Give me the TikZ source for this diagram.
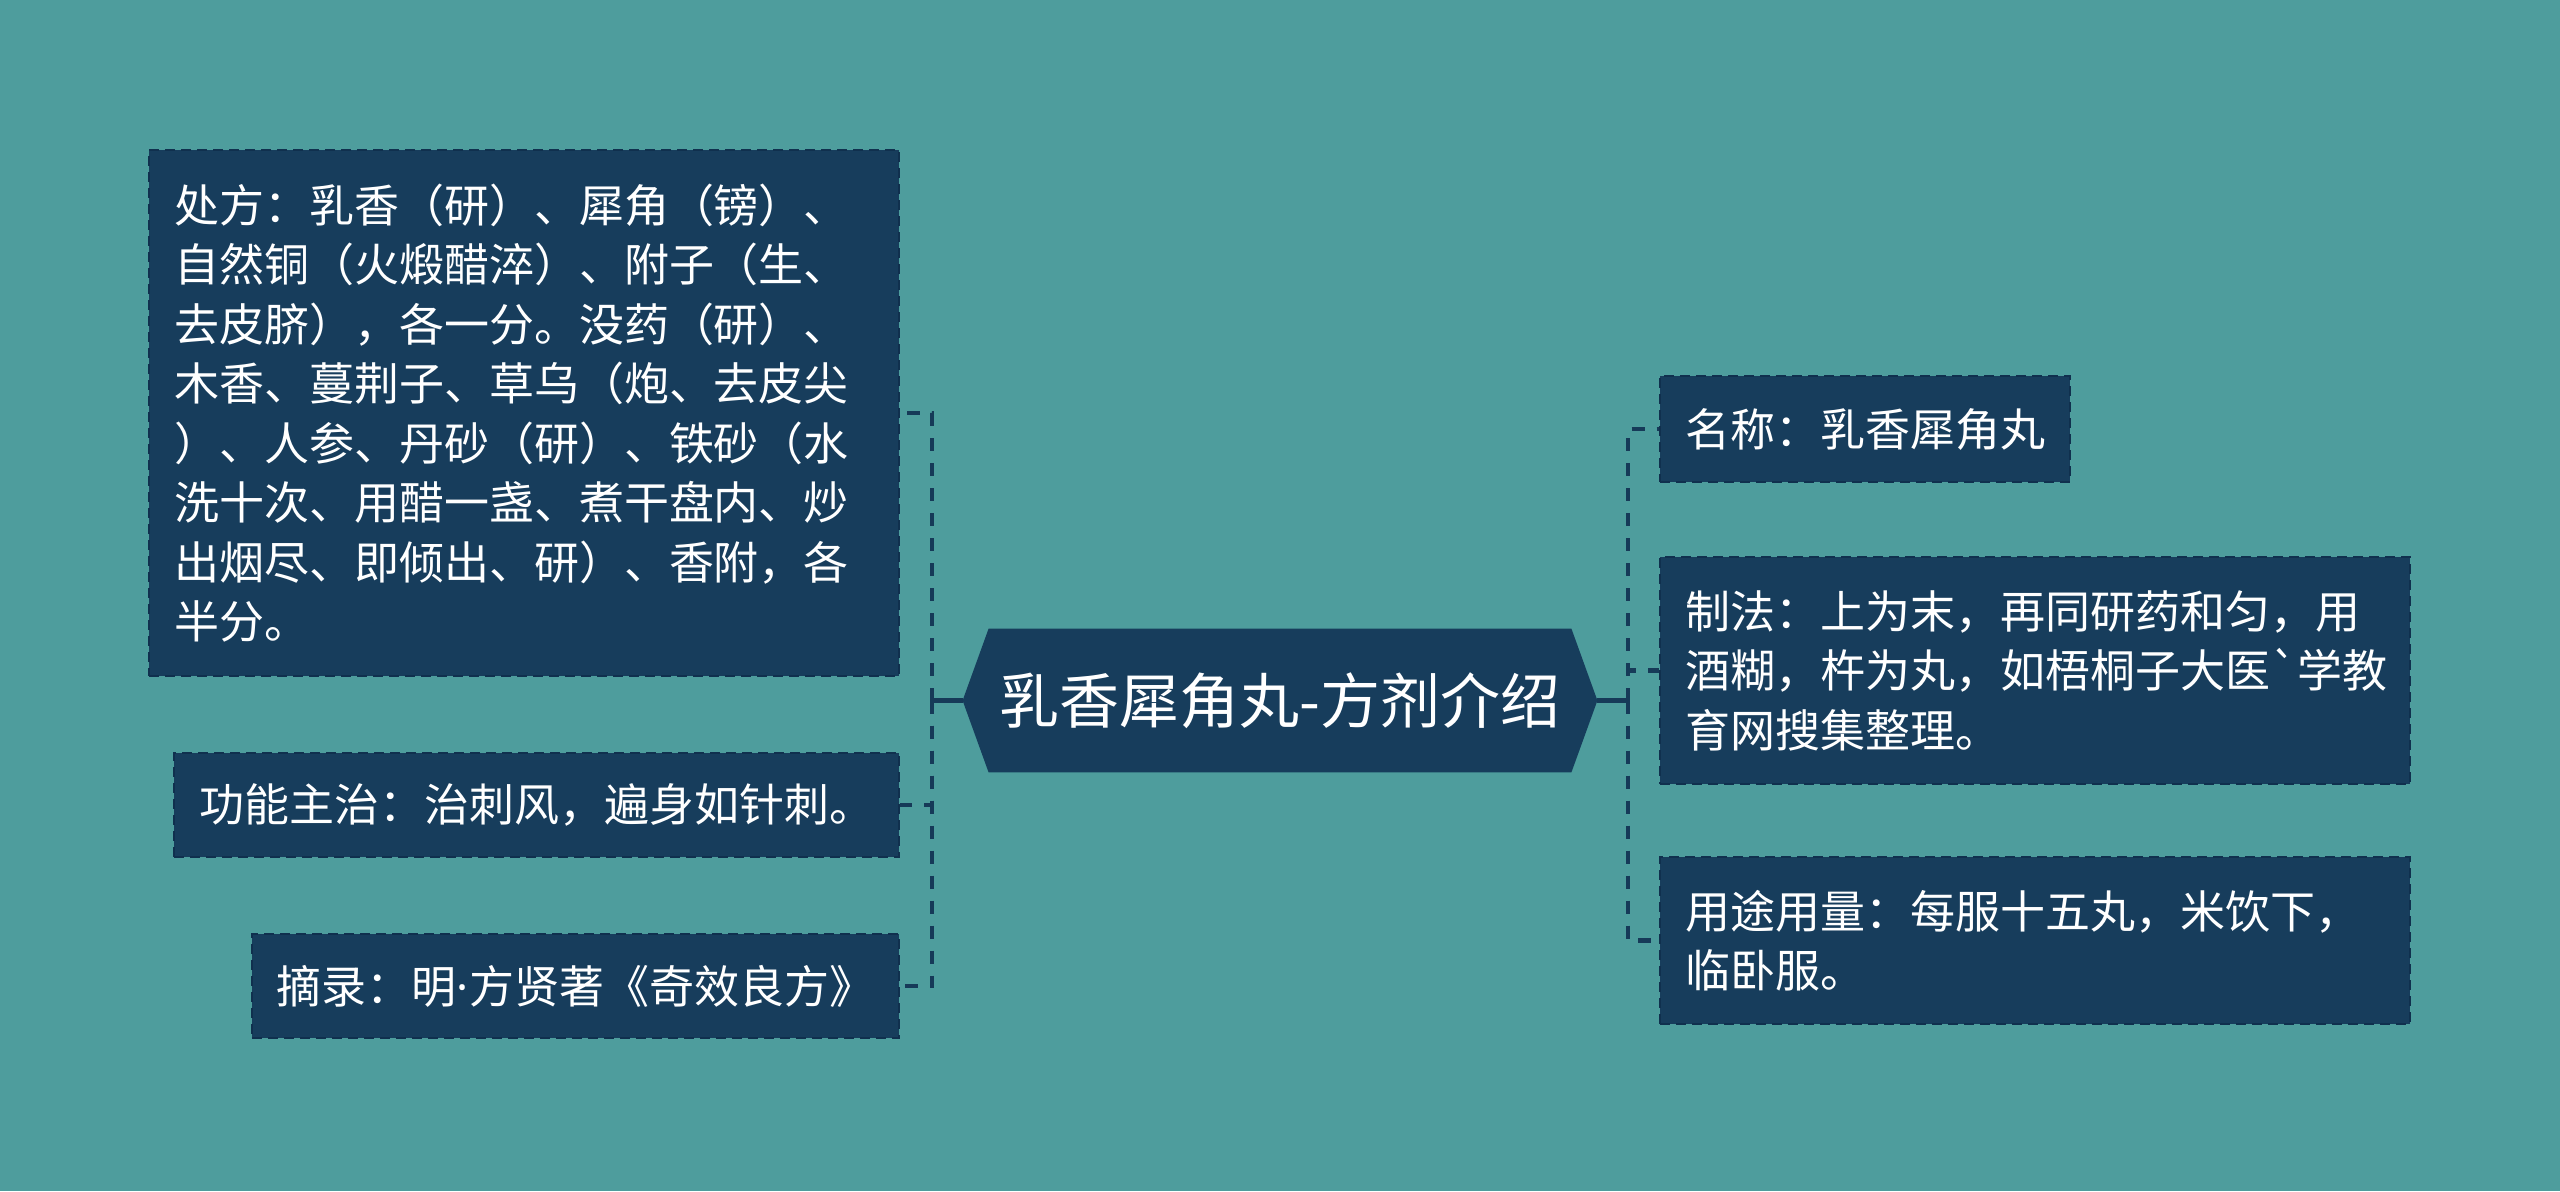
\documentclass[tikz,border=0pt]{standalone}
\usepackage{fontspec}
\newfontfamily\cjk{Noto Sans CJK SC}
\newfontfamily\latinfont{Noto Sans}
\usetikzlibrary{backgrounds}
\definecolor{bg}{RGB}{78,157,157}
\definecolor{navy}{RGB}{23,61,92}
\definecolor{boxedge}{RGB}{16,48,78}
\definecolor{conncol}{RGB}{22,58,88}
\tikzset{
  leaf/.style={fill=navy, draw=boxedge, line width=1pt, dash pattern=on 5pt off 3pt,
    text=white, inner xsep=12.5pt, inner ysep=0pt, align=left,
    font=\cjk\fontsize{22.5pt}{29.75pt}\selectfont},
  hub/.style={text=white, inner sep=0pt, minimum width=291pt, minimum height=71.5pt,
    font=\cjk\fontsize{30pt}{36pt}\selectfont},
  conn/.style={draw=conncol, line width=2.3pt, dash pattern=on 6.5pt off 6pt},
  stub/.style={draw=conncol, line width=2.3pt}
}
\begin{document}
\begin{tikzpicture}[x=0.5pt,y=-0.5pt]
\useasboundingbox (0,0) rectangle (2560,1191);

% central topic
\node[hub] (c) at (1280,700.5) {乳香犀角丸-方剂介绍};
\path (c.west) ++(-26,0) coordinate (cl);
\path (c.east) ++(26,0) coordinate (cr);
\begin{scope}[on background layer]
\fill[bg] (0,0) rectangle (2560,1191);
\fill[navy] (c.north west) -- (c.north east) -- (cr) -- (c.south east)
  -- (c.south west) -- (cl) -- cycle;
\end{scope}

% left branches
\node[leaf, anchor=east, text width=350pt, minimum height=263pt] (n1) at (900,413)
 {处方：乳香（研）、犀角（镑）、\\自然铜（火煅醋淬）、附子（生、\\去皮脐），各一分。没药（研）、\\木香、蔓荆子、草乌（炮、去皮尖\\）、人参、丹砂（研）、铁砂（水\\洗十次、用醋一盏、煮干盘内、炒\\出烟尽、即倾出、研）、香附，各\\半分。};
\node[leaf, anchor=east, minimum width=362pt, minimum height=52pt] (n2) at (900,805)
 {功能主治：治刺风，遍身如针刺。};
\node[leaf, anchor=east, minimum width=322.5pt, minimum height=52pt] (n3) at (900,986)
 {摘录：明{\latinfont ·}方贤著《奇效良方》};

% right branches
\node[leaf, anchor=west, minimum width=204pt, minimum height=53pt] (r1) at (1659,429)
 {名称：乳香犀角丸};
\node[leaf, anchor=west, text width=350pt, minimum height=113.5pt] (r2) at (1659,670.5)
 {制法：上为末，再同研药和匀，用\\酒糊，杵为丸，如梧桐子大医`学教\\育网搜集整理。};
\node[leaf, anchor=west, text width=350pt, minimum height=83.5pt] (r3) at (1659,940.5)
 {用途用量：每服十五丸，米饮下，\\临卧服。};

% connectors
\coordinate (jl) at (932,700.5);
\coordinate (jr) at (1628,700.5);
\draw[stub] (cl) -- (jl);
\draw[stub] (cr) -- (jr);
\draw[conn] (jl) |- (n1.east);
\draw[conn] (jl) |- (n2.east);
\draw[conn] (jl) |- (n3.east);
\draw[conn] (jr) |- (r1.west);
\draw[conn] (jr) |- (r2.west);
\draw[conn] (jr) |- (r3.west);
\end{tikzpicture}
\end{document}
